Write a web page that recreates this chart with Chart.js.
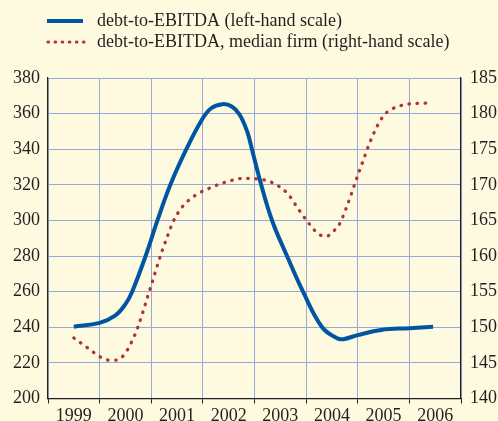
<!DOCTYPE html>
<html>
<head>
<meta charset="utf-8">
<script src="https://cdn.jsdelivr.net/npm/chart.js@4"></script>
<style>
  html, body { margin: 0; padding: 0; background: #fdfadf; }
  #wrap { width: 498px; height: 421px; }
</style>
</head>
<body>
<div id="wrap"><canvas id="chart"></canvas></div>
<script>
// Year labels (one per category)
const years = ["1999", "2000", "2001", "2002", "2003", "2004", "2005", "2006"];

// debt-to-EBITDA, left-hand scale (x in years)
const debtX = [1999.00, 1999.50, 1999.80, 2000.00, 2000.13, 2000.39, 2000.62, 2000.87,
  2001.18, 2001.47, 2001.66, 2001.88, 2002.06, 2002.21, 2002.36, 2002.45, 2002.63,
  2002.84, 2003.13, 2003.44, 2003.81, 2004.10, 2004.22, 2004.50, 2004.95, 2005.50, 2005.96];
const debtVals = [240.3, 242.5, 246.5, 253, 260, 280, 300, 320,
  340, 356, 363, 365.3, 364, 359.5, 349.8, 340, 320,
  300, 280, 260, 240, 233.8, 233.3, 235.6, 238.5, 239.5, 240.3];

// debt-to-EBITDA, median firm, right-hand scale
const medianX = [1999.00, 1999.25, 1999.51, 1999.67, 1999.82, 1999.97, 2000.13, 2000.25, 2000.40,
  2000.55, 2000.70, 2000.81, 2000.93, 2001.10, 2001.35, 2001.65, 2001.95, 2002.27, 2002.60,
  2002.90, 2003.15, 2003.34, 2003.53, 2003.76, 2003.90, 2004.03, 2004.14, 2004.27, 2004.38,
  2004.49, 2004.60, 2004.71, 2004.84, 2005.00, 2005.13, 2005.44, 2005.93];
const medianVals = [148.5, 147.2, 145.85, 145.4, 145.4, 146.1, 148.1, 150.2, 153.6,
  157.1, 160.5, 162.7, 164.9, 166.9, 168.5, 169.6, 170.4, 170.9, 170.8,
  170.1, 168.7, 166.7, 164.8, 163.0, 162.8, 163.5, 164.4, 166.6, 168.8,
  171.1, 173.3, 175.5, 177.7, 179.7, 180.5, 181.3, 181.5];

const legendLabels = ["debt-to-EBITDA (left-hand scale)", "debt-to-EBITDA, median firm (right-hand scale)"];

const blue = "#0055a2";
const red = "#b23236";
const gridColor = "#97a7da";
const axisColor = "#231f20";
const serif = { family: "'Liberation Serif', 'DejaVu Serif', serif", size: 18 };

// legend drawn by hand at the top left
const topLegend = {
  id: "topLegend",
  afterDraw(chart) {
    const ctx = chart.ctx;
    ctx.save();
    ctx.lineCap = "butt";
    ctx.strokeStyle = blue;
    ctx.lineWidth = 4;
    ctx.beginPath();
    ctx.moveTo(47, 21);
    ctx.lineTo(83, 21);
    ctx.stroke();

    ctx.strokeStyle = red;
    ctx.lineWidth = 3.2;
    ctx.lineCap = "round";
    ctx.setLineDash([0.5, 6.6]);
    ctx.beginPath();
    ctx.moveTo(48, 42);
    ctx.lineTo(84, 42);
    ctx.stroke();
    ctx.setLineDash([]);

    ctx.fillStyle = axisColor;
    ctx.font = "18px 'Liberation Serif', serif";
    ctx.textBaseline = "middle";
    ctx.fillText(legendLabels[0], 97, 21);
    ctx.fillText(legendLabels[1], 97, 42);
    ctx.restore();
  }
};

new Chart(document.getElementById("chart"), {
  type: "line",
  data: {
    labels: years,
    datasets: [
      {
        label: legendLabels[0],
        data: debtX.map((x, i) => ({ x, y: debtVals[i] })),
        xAxisID: "xd",
        yAxisID: "y",
        borderColor: blue,
        borderWidth: 4,
        tension: 0.4,
        pointRadius: 0
      },
      {
        label: legendLabels[1],
        data: medianX.map((x, i) => ({ x, y: medianVals[i] })),
        xAxisID: "xd",
        yAxisID: "y2",
        borderColor: red,
        borderWidth: 3.3,
        borderCapStyle: "round",
        borderDash: [0.5, 7.6],
        cubicInterpolationMode: "monotone",
        pointRadius: 0
      }
    ]
  },
  options: {
    responsive: true,
    maintainAspectRatio: false,
    animation: false,
    layout: { padding: { top: 78, left: 0, right: 0, bottom: 0 } },
    plugins: { legend: { display: false }, tooltip: { enabled: false } },
    scales: {
      x: {
        type: "category",
        position: "bottom",
        offset: true,
        grid: { offset: true, color: gridColor, lineWidth: 1, drawTicks: true, tickLength: 5, tickColor: axisColor },
        border: { display: true, color: axisColor, width: 1.2 },
        ticks: { font: serif, color: axisColor, padding: 2, maxRotation: 0 },
        afterFit(s) { s.height = 22.5; }
      },
      xd: { type: "linear", display: false, min: 1998.5, max: 2006.5 },
      y: {
        position: "left",
        min: 200,
        max: 380,
        ticks: { stepSize: 20, font: serif, color: axisColor, padding: 8 },
        grid: {
          color: c => (c.tick && c.tick.value === 200 ? "rgba(0,0,0,0)" : gridColor),
          drawTicks: false
        },
        border: { color: axisColor, width: 1.2 },
        afterFit(s) { s.width = 48; }
      },
      y2: {
        position: "right",
        min: 140,
        max: 185,
        ticks: { stepSize: 5, font: serif, color: axisColor, padding: 9 },
        grid: { display: false, drawTicks: false },
        border: { color: axisColor, width: 1.2 },
        afterFit(s) { s.width = 37; }
      }
    }
  },
  plugins: [topLegend]
});
</script>
</body>
</html>
